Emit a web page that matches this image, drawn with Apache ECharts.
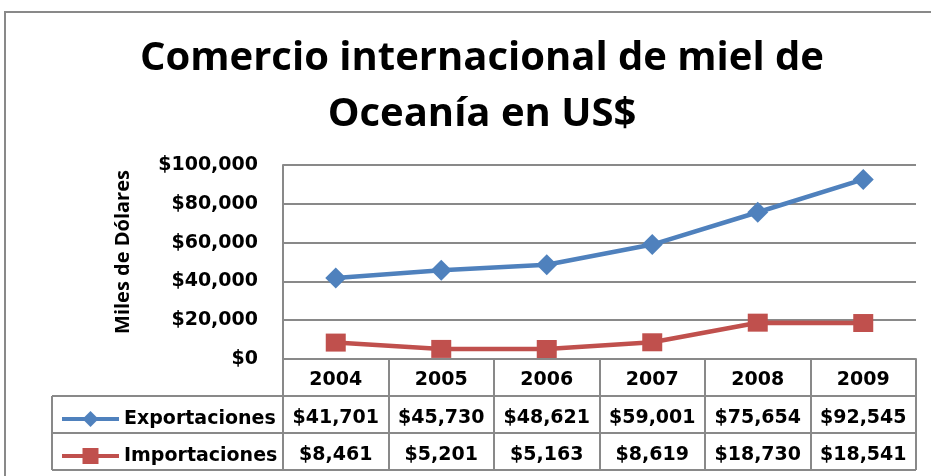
<!DOCTYPE html>
<html>
<head>
<meta charset="utf-8">
<script src="https://cdn.jsdelivr.net/npm/echarts@6/dist/echarts.min.js"></script>
<style>
  html, body { margin: 0; padding: 0; background: #fff; }
  #chart { width: 931px; height: 476px; }
</style>
</head>
<body>
<div id="chart"></div>
<script>
const years = ['2004', '2005', '2006', '2007', '2008', '2009'];
const exportaciones = [41701, 45730, 48621, 59001, 75654, 92545];
const importaciones = [8461, 5201, 5163, 8619, 18730, 18541];
const yTicks = { min: 0, max: 100000, interval: 20000 };

const TITLE_FONT = 'Open Sans';
const FONT = 'DejaVu Sans';
const GRAY = '#898989';
const BLUE = '#4F81BD';
const RED = '#C0504D';

// plot area box (px)
const L = 283, R = 916, T = 165, B = 359;
const ROW = 37;
const TABLE_LEFT = 52;

const money = v => '$' + v.toLocaleString('en-US');
const cellText = { color: '#000', fontFamily: FONT, fontWeight: 'bold', fontSize: 19 };

const chart = echarts.init(document.getElementById('chart'));

const rowAxis = (vals, off) => ({
    type: 'category',
    data: vals.map(money),
    position: 'bottom',
    offset: off,
    axisLine: { show: false },
    axisTick: { show: false },
    axisLabel: Object.assign({ margin: 13, interval: 0, hideOverlap: false }, cellText)
});

const hline = y => ({
    type: 'line',
    shape: { x1: TABLE_LEFT, y1: y, x2: R, y2: y },
    style: { stroke: GRAY, lineWidth: 2 }
});

chart.setOption({
    animation: false,
    title: {
        text: 'Comercio internacional de miel de\nOceanía en US$',
        left: 477,
        textAlign: 'center',
        top: 26,
        textStyle: { fontFamily: TITLE_FONT, fontWeight: 'bold', fontSize: 40, lineHeight: 56, color: '#000' }
    },
    legend: {
        orient: 'vertical',
        left: 55,
        top: B + ROW + 8,
        itemWidth: 57,
        itemHeight: 20,
        itemGap: 17,
        lineStyle: { width: 4 },
        textStyle: Object.assign({ lineHeight: 20 }, cellText),
        data: ['Exportaciones', 'Importaciones']
    },
    grid: { left: L, right: 931 - R, top: T, bottom: 476 - B },
    xAxis: [
        {
            type: 'category',
            data: years,
            boundaryGap: true,
            axisLine: { lineStyle: { color: GRAY, width: 2 } },
            axisTick: { show: true, length: ROW * 3, lineStyle: { color: GRAY, width: 2 } },
            axisLabel: Object.assign({ margin: 12, interval: 0 }, cellText)
        },
        rowAxis(exportaciones, ROW),
        rowAxis(importaciones, ROW * 2)
    ],
    yAxis: {
        type: 'value',
        min: yTicks.min,
        max: yTicks.max,
        interval: yTicks.interval,
        name: 'Miles de Dólares',
        nameLocation: 'middle',
        nameGap: 150,
        nameRotate: 90,
        nameTextStyle: { fontFamily: TITLE_FONT, fontWeight: 'bold', fontSize: 20, color: '#000', padding: [0, 0, 0, 20] },
        axisLine: { show: true, lineStyle: { color: GRAY, width: 2 } },
        axisTick: { show: false },
        splitLine: { lineStyle: { color: GRAY, width: 2 } },
        axisLabel: Object.assign({ margin: 25, padding: [5, 0, 0, 0], formatter: money }, cellText)
    },
    series: [
        {
            name: 'Exportaciones',
            type: 'line',
            data: exportaciones,
            symbol: 'diamond',
            symbolSize: 21,
            lineStyle: { color: BLUE, width: 4.5 },
            itemStyle: { color: BLUE }
        },
        {
            name: 'Importaciones',
            type: 'line',
            data: importaciones,
            symbol: 'rect',
            symbolSize: [20, 18],
            lineStyle: { color: RED, width: 4.5 },
            itemStyle: { color: RED }
        }
    ],
    graphic: [
        {
            type: 'rect',
            shape: { x: 5, y: 12, width: 1000, height: 1000 },
            style: { fill: 'none', stroke: GRAY, lineWidth: 2 }
        },
        hline(B + ROW),
        hline(B + ROW * 2),
        hline(B + ROW * 3),
        {
            type: 'line',
            shape: { x1: TABLE_LEFT, y1: B + ROW, x2: TABLE_LEFT, y2: B + ROW * 3 },
            style: { stroke: GRAY, lineWidth: 2 }
        }
    ]
});
</script>
</body>
</html>
